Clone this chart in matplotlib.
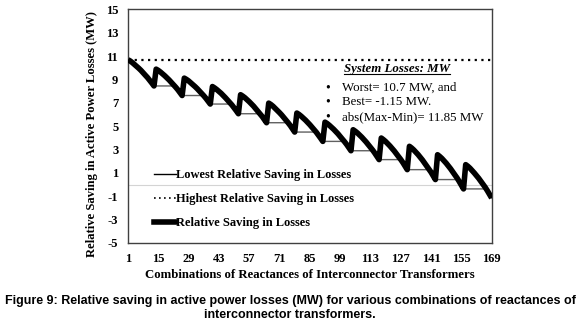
import numpy as np
import matplotlib.pyplot as plt
from matplotlib.lines import Line2D

# 13 groups of 13 combinations (169 in total)
saving = [
    10.70, 10.59, 10.45, 10.29, 10.14, 9.96, 9.78, 9.57, 9.37, 9.17, 8.94, 8.70, 8.45,
    9.89, 9.78, 9.64, 9.48, 9.32, 9.14, 8.96, 8.76, 8.56, 8.35, 8.13, 7.88, 7.63,
    9.12, 9.01, 8.88, 8.72, 8.56, 8.39, 8.21, 8.01, 7.81, 7.61, 7.39, 7.14, 6.90,
    8.40, 8.28, 8.14, 7.98, 7.82, 7.63, 7.44, 7.23, 7.03, 6.82, 6.58, 6.33, 6.07,
    7.70, 7.58, 7.44, 7.27, 7.10, 6.91, 6.72, 6.50, 6.28, 6.07, 5.83, 5.56, 5.30,
    6.98, 6.86, 6.71, 6.53, 6.36, 6.16, 5.96, 5.74, 5.52, 5.29, 5.05, 4.77, 4.50,
    6.13, 6.01, 5.86, 5.69, 5.52, 5.33, 5.13, 4.91, 4.70, 4.48, 4.23, 3.97, 3.70,
    5.35, 5.23, 5.08, 4.91, 4.74, 4.54, 4.35, 4.12, 3.90, 3.68, 3.44, 3.17, 2.90,
    4.70, 4.57, 4.42, 4.24, 4.06, 3.86, 3.65, 3.42, 3.19, 2.96, 2.70, 2.42, 2.14,
    3.99, 3.85, 3.69, 3.50, 3.31, 3.10, 2.88, 2.63, 2.39, 2.15, 1.88, 1.58, 1.28,
    3.28, 3.14, 2.97, 2.77, 2.57, 2.34, 2.11, 1.85, 1.60, 1.34, 1.06, 0.74, 0.43,
    2.56, 2.41, 2.24, 2.03, 1.83, 1.59, 1.36, 1.09, 0.83, 0.57, 0.27, -0.05, -0.37,
    1.71, 1.57, 1.40, 1.20, 0.99, 0.77, 0.54, 0.28, 0.02, -0.23, -0.52, -0.84, -1.15,
]
highest = 10.7
x_ticks = [1, 15, 29, 43, 57, 71, 85, 99, 113, 127, 141, 155, 169]
y_ticks = [-5, -3, -1, 1, 3, 5, 7, 9, 11, 13, 15]
info_lines = ["Worst= 10.7 MW, and", "Best= -1.15 MW.", "abs(Max-Min)= 11.85 MW"]

plt.rcParams["axes.unicode_minus"] = False
serif = "Liberation Serif"
combos = np.arange(1, len(saving) + 1)
lowest = np.minimum.accumulate(saving)

fig = plt.figure(figsize=(5.8, 3.27), dpi=100)
ax = fig.add_axes([0.2207, 0.257, 0.627, 0.714])

ax.axhline(0, color="#d4d4d4", lw=0.8, zorder=1)
ax.plot(combos, lowest, color="#606060", lw=1.0, zorder=2,
        label="Lowest Relative Saving in Losses")
ax.plot(combos, np.full(len(combos), highest), color="black", lw=1.6,
        ls=(0, (1, 2)), zorder=2, label="Highest Relative Saving in Losses")
ax.plot(combos, saving, color="black", lw=4, solid_capstyle="butt", zorder=3,
        label="Relative Saving in Losses")

ax.set_xlim(1, 169)
ax.set_ylim(-5, 15)
ax.set_xticks(x_ticks)
ax.set_yticks(y_ticks)
ax.tick_params(length=0, pad=7, labelsize=9)
for lab in ax.get_xticklabels() + ax.get_yticklabels():
    lab.set_fontfamily(serif)
    lab.set_fontweight("bold")
for sp in ax.spines.values():
    sp.set_color("#404040")
    sp.set_linewidth(1.0)

ax.set_xlabel("Combinations of Reactances of Interconnector Transformers",
              family=serif, weight="bold", fontsize=9.2, labelpad=3)
ax.set_ylabel("Relative Saving in Active Power Losses (MW)",
              family=serif, weight="bold", fontsize=9.1)
ax.yaxis.set_label_coords(-0.083, 0.465)

handles = [Line2D([], [], color="black", lw=1.0),
           Line2D([], [], color="black", lw=1.2, ls=(0, (1, 2))),
           Line2D([], [], color="black", lw=4)]
ax.legend(handles, [l.get_label() for l in ax.get_lines()[1:]],
          loc="lower left", bbox_to_anchor=(0.04, 0.012), frameon=False,
          prop={"family": serif, "weight": "bold", "size": 9.0},
          handlelength=1.8, handletextpad=0.0, labelspacing=0.95)

head = ax.text(0.739, 0.745, "System Losses: MW", transform=ax.transAxes,
               family=serif, weight="bold", style="italic", fontsize=9.3,
               ha="center", va="center")
for i, line in enumerate(info_lines):
    y = 0.664 - i * 0.062
    ax.text(0.55, y, "\u2022", transform=ax.transAxes, family=serif,
            fontsize=10, ha="center", va="center")
    ax.text(0.588, y, line, transform=ax.transAxes, family=serif,
            fontsize=9.3, ha="left", va="center")

fig.canvas.draw()
bb = head.get_window_extent().transformed(ax.transAxes.inverted())
ax.plot([bb.x0, bb.x1], [bb.y0 + 0.003, bb.y0 + 0.003], color="black", lw=0.8,
        transform=ax.transAxes, clip_on=False)

fig.text(0.5, 0.058, "Figure 9: Relative saving in active power losses (MW) for various "
         "combinations of reactances of\ninterconnector transformers.",
         family="Liberation Sans", weight="bold", fontsize=9.0, ha="center",
         va="center", linespacing=1.3)

fig.savefig("out.png", dpi=100)
